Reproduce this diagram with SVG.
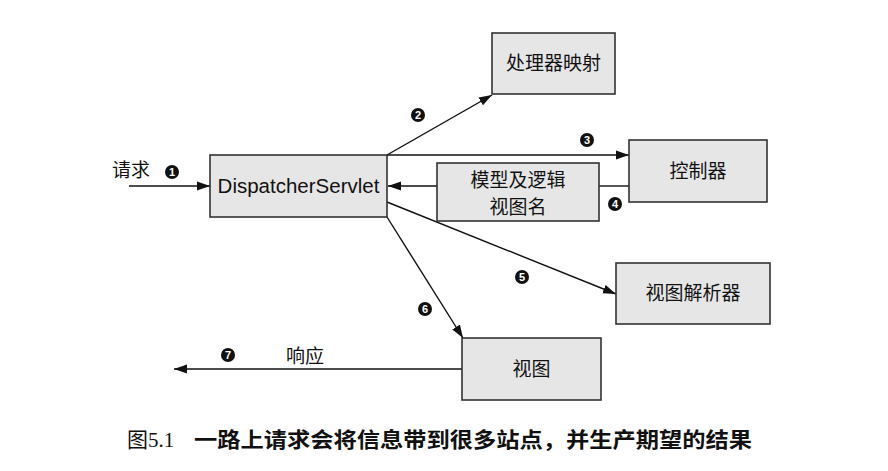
<svg xmlns="http://www.w3.org/2000/svg" width="888" height="471" viewBox="0 0 888 471">
<defs>
<marker id="ah" markerUnits="userSpaceOnUse" markerWidth="14" markerHeight="10" refX="13" refY="5" orient="auto">
<path d="M0,0.5 L13,5 L0,9.5 Z" fill="#111"/>
</marker>
<style>
.box{fill:#e6e6e6;stroke:#333;stroke-width:1.6}
.cn{font-family:"Noto Sans CJK SC","Liberation Sans",sans-serif;font-size:19px;fill:#111;text-anchor:middle}
.en{font-family:"Liberation Sans",Arial,sans-serif;font-size:20.5px;fill:#111;text-anchor:middle}
.ln{stroke:#111;stroke-width:1.4;fill:none;marker-end:url(#ah)}
.nb{fill:#111}
.nt{font-family:"Liberation Sans",Arial,sans-serif;font-size:11px;font-weight:bold;fill:#fff;text-anchor:middle}
</style>
</defs>
<rect width="888" height="471" fill="#fff"/>
<g id="connectors">
<line class="ln" x1="129" y1="186" x2="210" y2="186"/>
<line class="ln" x1="387" y1="155" x2="492" y2="95"/>
<line class="ln" x1="387" y1="155" x2="629" y2="155"/>
<line x1="629" y1="186" x2="599" y2="186" stroke="#111" stroke-width="1.4"/>
<line class="ln" x1="437" y1="186" x2="388" y2="186"/>
<line class="ln" x1="387" y1="202" x2="616" y2="294"/>
<line class="ln" x1="387" y1="217" x2="463" y2="338"/>
<line class="ln" x1="462" y1="369" x2="174" y2="369"/>
</g>
<g id="label-request"><text class="cn" x="131" y="177">请求</text></g>
<g id="label-response"><text class="cn" x="305" y="363">响应</text></g>
<g id="n1"><circle class="nb" cx="172" cy="172" r="7"/><text class="nt" x="172" y="176">1</text></g>
<g id="n2"><circle class="nb" cx="418" cy="115" r="7"/><text class="nt" x="418" y="119">2</text></g>
<g id="n3"><circle class="nb" cx="587" cy="140" r="7"/><text class="nt" x="587" y="144">3</text></g>
<g id="n4"><circle class="nb" cx="615" cy="204" r="7"/><text class="nt" x="615" y="208">4</text></g>
<g id="n5"><circle class="nb" cx="522" cy="277" r="7"/><text class="nt" x="522" y="281">5</text></g>
<g id="n6"><circle class="nb" cx="425" cy="309" r="7"/><text class="nt" x="425" y="313">6</text></g>
<g id="n7"><circle class="nb" cx="228" cy="355" r="7"/><text class="nt" x="228" y="359">7</text></g>
<g id="dispatcher"><rect class="box" x="210" y="155" width="177" height="62"/><text class="en" x="298.5" y="193">DispatcherServlet</text></g>
<g id="handler-mapping"><rect class="box" x="492" y="33" width="123" height="61"/><text class="cn" x="553.5" y="70">处理器映射</text></g>
<g id="controller"><rect class="box" x="629" y="140" width="138" height="62"/><text class="cn" x="698" y="178">控制器</text></g>
<g id="model-view"><rect class="box" x="437" y="163" width="162" height="58"/><text class="cn" x="518" y="187" font-size="18">模型及逻辑</text><text class="cn" x="518" y="214" font-size="18">视图名</text></g>
<g id="view-resolver"><rect class="box" x="616" y="263" width="154" height="61"/><text class="cn" x="693" y="300">视图解析器</text></g>
<g id="view"><rect class="box" x="462" y="338" width="139" height="62"/><text class="cn" x="531.5" y="376">视图</text></g>
<g id="caption">
<text x="127" y="447" font-family="Liberation Serif,'Noto Sans CJK SC',serif" font-size="21" fill="#111">图5.1</text>
<text x="194" y="447" font-family="'Noto Sans CJK SC',sans-serif" font-size="21" font-weight="bold" fill="#111" textLength="558" lengthAdjust="spacingAndGlyphs">一路上请求会将信息带到很多站点，并生产期望的结果</text>
</g>
</svg>
